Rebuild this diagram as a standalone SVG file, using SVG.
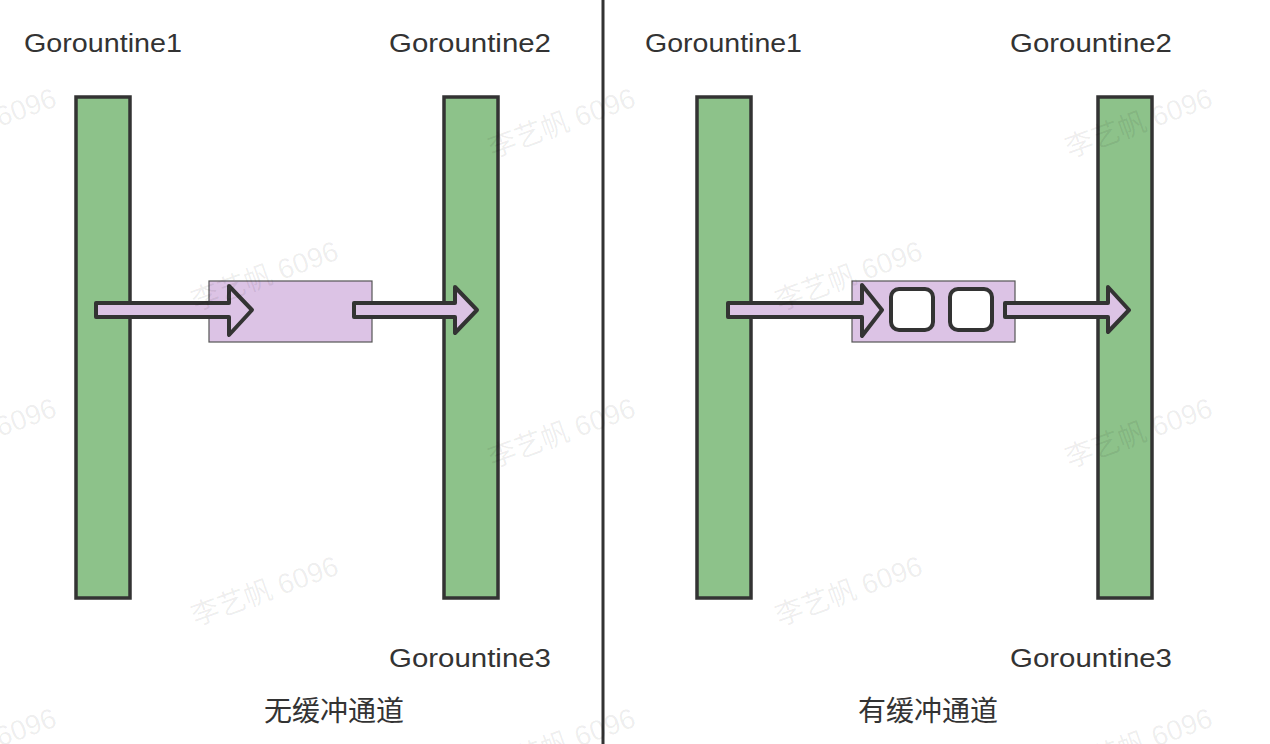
<svg xmlns="http://www.w3.org/2000/svg" width="1270" height="744" viewBox="0 0 1270 744">
<style>
.bar{fill:#8dc28a;stroke:#333;stroke-width:3.5}
.chan{fill:#dcc3e5;stroke:#555;stroke-width:1.2}
.arr{fill:#dcc3e5;stroke:#333;stroke-width:4;stroke-linejoin:round}
.slot{fill:#fff;stroke:#333;stroke-width:4}
.lbl{font-family:"Liberation Sans","Noto Sans CJK SC",sans-serif;font-size:25px;fill:#333}
.cap{font-family:"Noto Sans CJK SC","Liberation Sans",sans-serif;font-size:28px;fill:#333}
.wm{font-family:"Liberation Sans","Noto Sans CJK SC",sans-serif;font-size:28px;fill:#000;fill-opacity:0.07}
</style>
<rect width="1270" height="744" fill="#fff"/>
<line x1="603" y1="0" x2="603" y2="744" stroke="#333" stroke-width="3"/>
<g id="left-panel">
  <g id="g1-left"><rect class="bar" x="76" y="97" width="54" height="501"/><text class="lbl" x="24" y="52" textLength="158" lengthAdjust="spacingAndGlyphs">Gorountine1</text></g>
  <g id="g2-left"><rect class="bar" x="444" y="97" width="54" height="501"/><text class="lbl" x="389" y="52" textLength="162" lengthAdjust="spacingAndGlyphs">Gorountine2</text><text class="lbl" x="389" y="667" textLength="162" lengthAdjust="spacingAndGlyphs">Gorountine3</text></g>
  <g id="chan-left"><rect class="chan" x="209" y="281" width="163" height="61"/></g>
  <text class="cap" x="334" y="721" text-anchor="middle">无缓冲通道</text>
</g>
<g id="right-panel">
  <g id="g1-right"><rect class="bar" x="697" y="97" width="54" height="501"/><text class="lbl" x="645" y="52" textLength="157" lengthAdjust="spacingAndGlyphs">Gorountine1</text></g>
  <g id="g2-right"><rect class="bar" x="1098" y="97" width="54" height="501"/><text class="lbl" x="1010" y="52" textLength="162" lengthAdjust="spacingAndGlyphs">Gorountine2</text><text class="lbl" x="1010" y="667" textLength="162" lengthAdjust="spacingAndGlyphs">Gorountine3</text></g>
  <g id="chan-right"><rect class="chan" x="852" y="281" width="163" height="61"/>
    <rect class="slot" x="891" y="289" width="42" height="41" rx="8"/>
    <rect class="slot" x="950" y="289" width="42" height="41" rx="8"/></g>
  <text class="cap" x="928" y="721" text-anchor="middle">有缓冲通道</text>
</g>
<g id="connectors">
  <polygon class="arr" points="96,303 229,303 229,286 252,310 229,335 229,317 96,317"/>
  <polygon class="arr" points="354,303 455,303 455,287 477,310 455,333 455,317 354,317"/>
  <polygon class="arr" points="728,303 862,303 862,285 882,310 862,336 862,317 728,317"/>
  <polygon class="arr" points="1005,303 1108,303 1108,287 1129,310 1108,332 1108,317 1005,317"/>
</g>
<g id="watermarks">
  <text class="wm" transform="translate(268,600) rotate(-20)" text-anchor="middle">李艺帆 6096</text>
  <text class="wm" transform="translate(268,285) rotate(-20)" text-anchor="middle">李艺帆 6096</text>
  <text class="wm" transform="translate(565,132) rotate(-20)" text-anchor="middle">李艺帆 6096</text>
  <text class="wm" transform="translate(565,442) rotate(-20)" text-anchor="middle">李艺帆 6096</text>
  <text class="wm" transform="translate(565,752) rotate(-20)" text-anchor="middle">李艺帆 6096</text>
  <text class="wm" transform="translate(852,600) rotate(-20)" text-anchor="middle">李艺帆 6096</text>
  <text class="wm" transform="translate(852,285) rotate(-20)" text-anchor="middle">李艺帆 6096</text>
  <text class="wm" transform="translate(1142,132) rotate(-20)" text-anchor="middle">李艺帆 6096</text>
  <text class="wm" transform="translate(1142,442) rotate(-20)" text-anchor="middle">李艺帆 6096</text>
  <text class="wm" transform="translate(1142,752) rotate(-20)" text-anchor="middle">李艺帆 6096</text>
  <text class="wm" transform="translate(-14,132) rotate(-20)" text-anchor="middle">李艺帆 6096</text>
  <text class="wm" transform="translate(-14,442) rotate(-20)" text-anchor="middle">李艺帆 6096</text>
  <text class="wm" transform="translate(-14,752) rotate(-20)" text-anchor="middle">李艺帆 6096</text>
</g>
</svg>
